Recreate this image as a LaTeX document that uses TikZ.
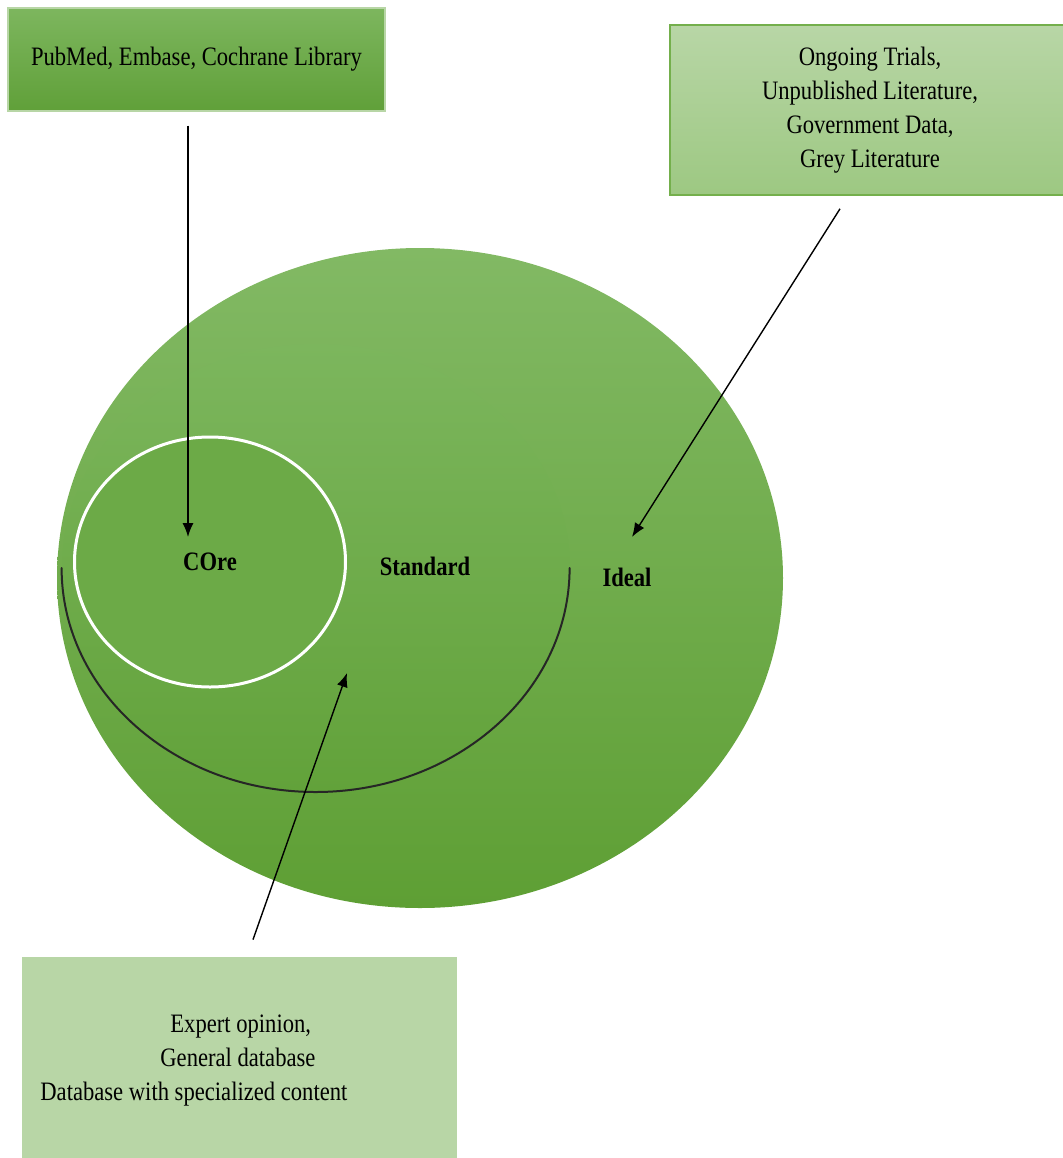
\documentclass[tikz,border=0pt]{standalone}
\usepackage{fontspec}
\setmainfont[FakeStretch=0.85]{Liberation Serif}
\usepackage{tikz}
\usetikzlibrary{shapes.geometric,arrows.meta}
\usepackage{xcolor}

\definecolor{boxtop}{HTML}{7DB65E}
\definecolor{boxbot}{HTML}{60A039}
\definecolor{palebox}{HTML}{B8D6A6}
\definecolor{palebot}{HTML}{9DC882}
\definecolor{paleline}{HTML}{74AF4C}
\definecolor{idealtop}{HTML}{82B964}
\definecolor{idealbot}{HTML}{5E9F34}
\definecolor{stdtop}{HTML}{7CB65D}
\definecolor{stdbot}{HTML}{62A23A}
\definecolor{corefill}{HTML}{6CAA47}

\begin{document}
\begin{tikzpicture}[x=0.5pt,y=-0.5pt,
  every node/.style={font=\fontsize{13.3}{17}\selectfont},
  srcbox/.style={rectangle, inner sep=0pt, align=center},
  ring/.style={ellipse, inner sep=0pt},
  lbl/.style={font=\fontsize{13.3}{17}\selectfont\bfseries},
  link/.style={-{Latex[length=7pt,width=5.5pt]}, line width=0.7pt}]
\useasboundingbox (0,0) rectangle (1062,1158);

% Circles
\node[ring, top color=idealtop, bottom color=idealbot,
  minimum width=363pt, minimum height=330pt] (ideal) at (420,578) {};
\node[ring, top color=stdtop, bottom color=stdbot,
  minimum width=254pt, minimum height=224pt] (std) at (316,568) {};
% dark rim under the standard circle
\draw[black!85, line width=1pt, line cap=round] (std.west)
  arc[start angle=180, end angle=360, x radius=127pt, y radius=112pt];
\node[ring, fill=corefill, draw=white, line width=1.5pt,
  minimum width=135.5pt, minimum height=125pt] (core) at (210,562) {};

\node[lbl] (corelbl) at (210,562) {COre};
\node[lbl] (stdlbl) at (425,566) {Standard};
\node[lbl] (ideallbl) at (627,577) {Ideal};

% Sources
\node[srcbox, top color=boxtop, bottom color=boxbot, draw=palebox, line width=0.6pt,
  minimum width=188.5pt, minimum height=51.5pt] (core src) at (196.5,59.5)
  {PubMed, Embase, Cochrane Library};
\node[srcbox, top color=palebox, bottom color=palebot, draw=paleline, line width=0.8pt,
  minimum width=200pt, minimum height=85pt] (ideal src) at (870,110)
  {Ongoing Trials,\\ Unpublished Literature,\\ Government Data,\\ Grey Literature};
\node[srcbox, fill=palebox, minimum width=217.5pt, minimum height=106.5pt]
  (std src) at (239.5,1063.5) {};
\node[anchor=west, align=left, inner sep=0pt] (std txt) at (40,1061)
  {\hspace*{65pt}Expert opinion,\\ \hspace*{60pt}General database\\ Database with specialized content};

% Arrows
\coordinate (core tip) at (188,537);
\coordinate (ideal tip) at (632,537);
\coordinate (std tip) at (347,673);
\draw[link] ([xshift=-4.25pt,yshift=-7pt]core src.south) -- (core tip);
\draw[link] ([xshift=-15pt,yshift=-6.5pt]ideal src.south) -- (ideal tip);
\draw[link] ([xshift=6.75pt,yshift=8.5pt]std src.north) -- (std tip);
\end{tikzpicture}
\end{document}
